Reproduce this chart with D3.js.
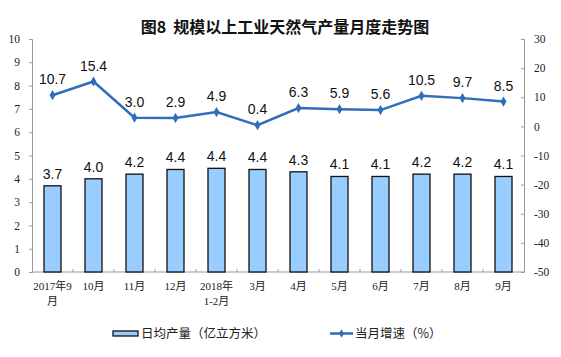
<!DOCTYPE html>
<html><head><meta charset="utf-8">
<script src="https://cdn.jsdelivr.net/npm/d3@7"></script>
<style>body{margin:0;background:#fff}</style>
</head><body>
<svg id="c" width="561" height="357"></svg>
<script>
const categories = [["2017年9","月"],["10月"],["11月"],["12月"],["2018年","1-2月"],["3月"],["4月"],["5月"],["6月"],["7月"],["8月"],["9月"]];
const output = [3.7,4.0,4.2,4.4,4.45,4.4,4.3,4.1,4.1,4.2,4.2,4.1];
const outputLabels = ["3.7","4.0","4.2","4.4","4.4","4.4","4.3","4.1","4.1","4.2","4.2","4.1"];
const growth = [10.7,15.4,3.0,2.9,4.9,0.4,6.3,5.9,5.6,10.5,9.7,8.5];
const leftTicks = [0,1,2,3,4,5,6,7,8,9,10];
const rightTicks = [-50,-40,-30,-20,-10,0,10,20,30];
const title = "图8\u00a0\u00a0规模以上工业天然气产量月度走势图";
const legendBar = "日均产量（亿立方米）";
const legendLine = "当月增速（%）";

const svg = d3.select("#c");
const L = 32, R = 524, T = 39, B = 272;
const serif = "'Liberation Serif','Times New Roman','Noto Sans CJK SC',serif";
const cjk = "'Noto Sans CJK SC','Liberation Sans',sans-serif";
const idx = d3.range(categories.length);
const x = d3.scaleBand().domain(idx).range([L, R]);
const yL = d3.scaleLinear().domain([0,10]).range([B, T]);
const yR = d3.scaleLinear().domain([-50,30]).range([B, T]);
const blue = "#2F6EBA";

svg.append("text").attr("x", 285).attr("y", 33).attr("text-anchor","middle")
  .attr("font-family", cjk).attr("font-size", 16).attr("font-weight","bold").attr("fill","#111").text(title);

// left axis
const gL = svg.append("g").attr("transform",`translate(${L},0)`)
  .call(d3.axisLeft(yL).tickValues(leftTicks).tickSize(3).tickFormat(d=>String(d)));
gL.selectAll("text").attr("font-family", serif).attr("font-size", 11.5).attr("fill","#222").attr("x",-12);
// right axis
const gR = svg.append("g").attr("transform",`translate(${R},0)`)
  .call(d3.axisRight(yR).tickValues(rightTicks).tickSize(-3).tickFormat(d=>String(d)));
gR.selectAll("text").attr("font-family", serif).attr("font-size", 11.5).attr("fill","#222").attr("x",10);
[gL,gR].forEach(g=>{g.selectAll("path,line").attr("stroke","#999");});

// bottom axis
svg.append("line").attr("x1",L).attr("x2",R).attr("y1",B).attr("y2",B).attr("stroke","#999");
svg.selectAll(".xt").data(d3.range(1, categories.length)).enter().append("line")
  .attr("x1", d=>x(d)).attr("x2", d=>x(d)).attr("y1",B).attr("y2",B-3).attr("stroke","#999");

// x labels
const xl = svg.selectAll(".xl").data(idx).enter().append("text")
  .attr("text-anchor","middle").attr("font-family", serif).attr("font-size", 11).attr("fill","#222");
xl.each(function(i){
  const t = d3.select(this);
  categories[i].forEach((s,k)=>{
    t.append("tspan").attr("x", x(i)+x.bandwidth()/2).attr("y", 290 + k*15).text(s);
  });
});

// bars
const bw = 17;
svg.selectAll(".bar").data(idx).enter().append("rect")
  .attr("x", i=>x(i)+x.bandwidth()/2-bw/2).attr("width", bw)
  .attr("y", i=>yL(output[i])).attr("height", i=>B-yL(output[i]))
  .attr("fill","#99CCFF").attr("stroke","#111").attr("stroke-width",1.3);
svg.selectAll(".bl").data(idx).enter().append("text")
  .attr("x", i=>x(i)+x.bandwidth()/2).attr("y", i=>yL(output[i])-7)
  .attr("text-anchor","middle").attr("font-family","'Liberation Sans',Arial,sans-serif")
  .attr("font-size",14).attr("fill","#111").text(i=>outputLabels[i]);

// line
const line = d3.line().x(i=>x(i)+x.bandwidth()/2).y(i=>yR(growth[i]));
svg.append("path").datum(idx).attr("d", line).attr("fill","none").attr("stroke",blue).attr("stroke-width",2.5);
svg.selectAll(".pt").data(idx).enter().append("path")
  .attr("d", d3.symbol(d3.symbolDiamond, 30)())
  .attr("transform", i=>`translate(${x(i)+x.bandwidth()/2},${yR(growth[i])})`).attr("fill",blue);
svg.selectAll(".ll").data(idx).enter().append("text")
  .attr("x", i=>x(i)+x.bandwidth()/2).attr("y", i=>yR(growth[i])-11)
  .attr("text-anchor","middle").attr("font-family","'Liberation Sans',Arial,sans-serif")
  .attr("font-size",14).attr("fill","#111").text(i=>growth[i].toFixed(1));

// legend
svg.append("rect").attr("x",113).attr("y",331).attr("width",25).attr("height",5)
  .attr("fill","#99CCFF").attr("stroke","#111").attr("stroke-width",1.3);
svg.append("text").attr("x",141).attr("y",338).attr("font-family",cjk).attr("font-size",12.5).attr("fill","#222").text(legendBar);
svg.append("line").attr("x1",330).attr("x2",353).attr("y1",333.5).attr("y2",333.5).attr("stroke",blue).attr("stroke-width",2.5);
svg.append("path").attr("d", d3.symbol(d3.symbolDiamond, 20)()).attr("transform","translate(341.5,333.5)").attr("fill",blue);
svg.append("text").attr("x",355).attr("y",338).attr("font-family",cjk).attr("font-size",12.5).attr("fill","#222").text(legendLine);
</script>
</body></html>
